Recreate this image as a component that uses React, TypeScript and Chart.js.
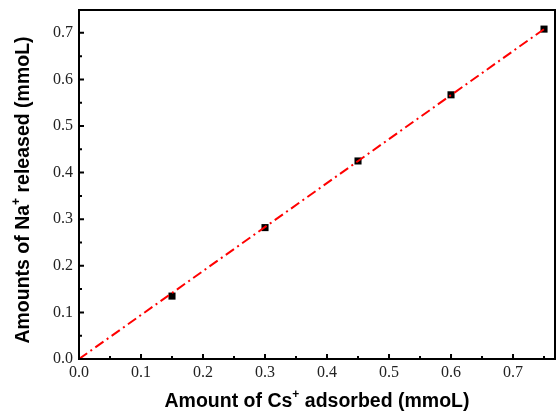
import React, { useEffect, useRef } from "react";
import { Chart, registerables } from "chart.js";

Chart.register(...registerables);

const csAdsorbed = [0.15, 0.3, 0.45, 0.6, 0.75];
const naReleased = [0.135, 0.282, 0.425, 0.567, 0.708];
const fitX = [0, 0.75];
const fitY = [0, 0.708];
const xTicks = [0, 0.1, 0.2, 0.3, 0.4, 0.5, 0.6, 0.7];
const yTicks = [0, 0.1, 0.2, 0.3, 0.4, 0.5, 0.6, 0.7];
const xMinor = [0.05, 0.15, 0.25, 0.35, 0.45, 0.55, 0.65, 0.75];
const yMinor = [0.05, 0.15, 0.25, 0.35, 0.45, 0.55, 0.65];
const xTitle = [["Amount of Cs", false], ["+", true], [" adsorbed (mmoL)", false]];
const yTitle = [["Amounts of Na", false], ["+", true], [" released (mmoL)", false]];

function drawRich(ctx: CanvasRenderingContext2D, parts: any[], cx: number, cy: number) {
  const main = "bold 19.5px 'Liberation Sans', Arial, sans-serif";
  const sup = "bold 12px 'Liberation Sans', Arial, sans-serif";
  let total = 0;
  for (const [t, s] of parts) {
    ctx.font = s ? sup : main;
    total += ctx.measureText(t).width;
  }
  let x = cx - total / 2;
  ctx.textBaseline = "middle";
  ctx.textAlign = "left";
  for (const [t, s] of parts) {
    ctx.font = s ? sup : main;
    ctx.fillText(t, x, s ? cy - 7 : cy);
    x += ctx.measureText(t).width;
  }
}

const framePlugin = {
  id: "frame",
  afterDraw(chart: any) {
    const { ctx, chartArea: a, scales } = chart;
    const xs = scales.x;
    const ys = scales.y;
    ctx.save();
    ctx.strokeStyle = "#000";
    ctx.lineWidth = 2;
    ctx.strokeRect(a.left, a.top, a.right - a.left, a.bottom - a.top);
    ctx.beginPath();
    for (const v of xTicks) {
      const p = xs.getPixelForValue(v);
      ctx.moveTo(p, a.bottom);
      ctx.lineTo(p, a.bottom - 5);
    }
    for (const v of xMinor) {
      const p = xs.getPixelForValue(v);
      ctx.moveTo(p, a.bottom);
      ctx.lineTo(p, a.bottom - 3);
    }
    for (const v of yTicks) {
      const p = ys.getPixelForValue(v);
      ctx.moveTo(a.left, p);
      ctx.lineTo(a.left + 5, p);
    }
    for (const v of yMinor) {
      const p = ys.getPixelForValue(v);
      ctx.moveTo(a.left, p);
      ctx.lineTo(a.left + 3, p);
    }
    ctx.stroke();

    ctx.fillStyle = "#222";
    ctx.font = "16px 'Liberation Serif', 'Times New Roman', serif";
    ctx.textAlign = "center";
    ctx.textBaseline = "top";
    for (const v of xTicks) {
      ctx.fillText(v.toFixed(1), xs.getPixelForValue(v), a.bottom + 6);
    }
    ctx.textAlign = "right";
    ctx.textBaseline = "middle";
    for (const v of yTicks) {
      ctx.fillText(v.toFixed(1), a.left - 6, ys.getPixelForValue(v));
    }

    ctx.fillStyle = "#000";
    drawRich(ctx, xTitle, 317, 402);
    ctx.save();
    ctx.translate(24, 190);
    ctx.rotate(-Math.PI / 2);
    drawRich(ctx, yTitle, 0, 0);
    ctx.restore();
    ctx.restore();
  },
};

export default function App() {
  const ref = useRef<HTMLCanvasElement>(null);
  useEffect(() => {
    const chart = new Chart(ref.current!, {
      type: "scatter",
      data: {
        datasets: [
          {
            type: "line",
            data: fitX.map((x, i) => ({ x, y: fitY[i] })),
            borderColor: "#ff0000",
            borderWidth: 2,
            borderDash: [10, 4, 2, 4],
            pointRadius: 0,
            fill: false,
            order: 0,
          },
          {
            data: csAdsorbed.map((x, i) => ({ x, y: naReleased[i] })),
            backgroundColor: "#000",
            borderColor: "#000",
            pointStyle: "rect",
            pointRadius: 5,
            borderWidth: 0,
            order: 1,
          },
        ],
      },
      options: {
        animation: false,
        responsive: false,
        layout: { autoPadding: false, padding: { top: 10, right: 2, left: 0, bottom: 0 } },
        plugins: { legend: { display: false }, tooltip: { enabled: false } },
        scales: {
          x: {
            type: "linear",
            min: 0,
            max: 0.7677,
            afterBuildTicks: (s: any) => {
              s.ticks = xTicks.map((v) => ({ value: v }));
            },
            afterFit: (s: any) => {
              s.height = 60;
            },
            grid: { display: false, drawTicks: false },
            border: { display: false },
            ticks: { display: false },
          },
          y: {
            type: "linear",
            min: 0,
            max: 0.749,
            afterBuildTicks: (s: any) => {
              s.ticks = yTicks.map((v) => ({ value: v }));
            },
            afterFit: (s: any) => {
              s.width = 79;
            },
            grid: { display: false, drawTicks: false },
            border: { display: false },
            ticks: { display: false },
          },
        },
      },
      plugins: [framePlugin],
    } as any);
    return () => chart.destroy();
  }, []);
  return (
    <div style={{ position: "fixed", left: 0, top: 0, width: 557, height: 419, background: "#fff" }}>
      <canvas ref={ref} width={557} height={419} style={{ width: 557, height: 419 }} />
    </div>
  );
}
